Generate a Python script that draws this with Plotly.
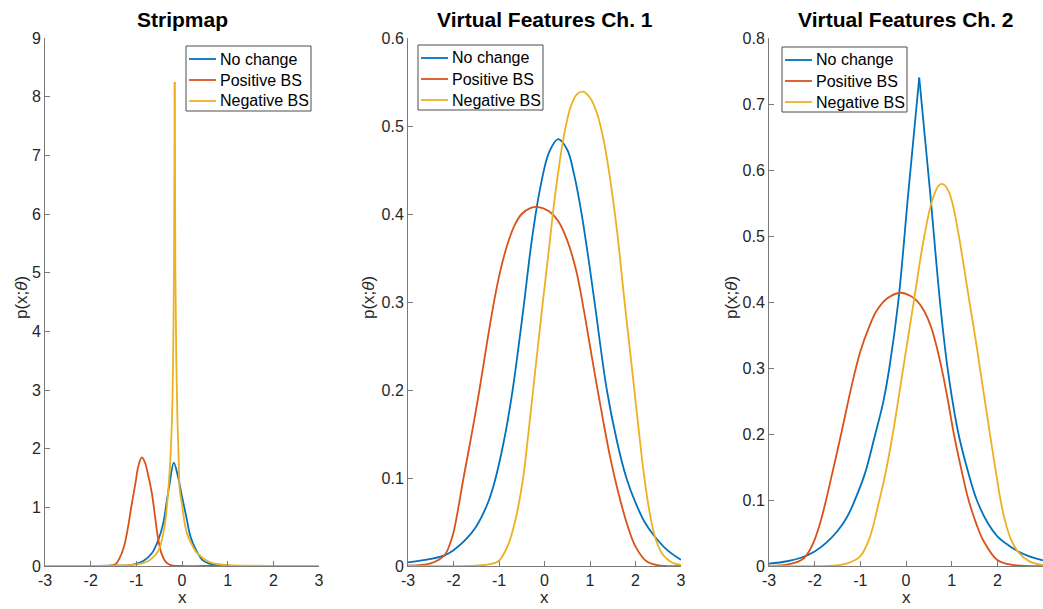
import plotly.graph_objects as go

# ---------------- data ----------------
x_tick_vals = [-3, -2, -1, 0, 1, 2, 3]
x_tick_text = ["-3", "-2", "-1", "0", "1", "2", "3"]

series_names = ["No change", "Positive BS", "Negative BS"]
series_colors = ["#0072BD", "#D95319", "#EDB120"]
panel_titles = ["Stripmap", "Virtual Features Ch. 1", "Virtual Features Ch. 2"]
panel_ymax = [9, 0.6, 0.8]
panel_dtick = [1, 0.1, 0.1]

# Panel 1 : Stripmap
s_x_nochange = [-3.0, -2.0, -1.5, -1.2, -1.02, -0.84, -0.66, -0.52, -0.41, -0.34, -0.27, -0.18,
                -0.086, 0.0, 0.094, 0.187, 0.31, 0.45, 0.6, 0.75, 1.0, 1.5, 3.0]
s_y_nochange = [0.0, 0.001, 0.004, 0.012, 0.034, 0.09, 0.216, 0.44, 0.73, 1.07, 1.41, 1.76,
                1.52, 1.18, 0.84, 0.5, 0.27, 0.1, 0.04, 0.015, 0.004, 0.0, 0.0]
s_x_pos = [-3.0, -1.8, -1.6, -1.45, -1.37, -1.27, -1.18, -1.11, -1.02, -0.95, -0.878, -0.81,
           -0.75, -0.66, -0.59, -0.53, -0.45, -0.34, -0.23, -0.1, 0.5, 1.5, 3.0]
s_y_pos = [0.0, 0.0, 0.003, 0.034, 0.13, 0.33, 0.67, 1.01, 1.41, 1.72, 1.85, 1.76,
           1.58, 1.24, 0.84, 0.5, 0.216, 0.057, 0.01, 0.001, 0.0, 0.0, 0.0]
s_x_neg = [-3.0, -2.0, -1.5, -1.2, -1.0, -0.88, -0.75, -0.66, -0.55, -0.48, -0.42, -0.37,
           -0.30, -0.26, -0.22, -0.195, -0.175, -0.16, -0.145, -0.125, -0.10, -0.07, -0.05,
           0.0, 0.058, 0.12, 0.2, 0.3, 0.42, 0.5, 0.63, 0.8, 1.0, 1.5, 2.0, 3.0]
s_y_neg = [0.0, 0.001, 0.005, 0.013, 0.028, 0.045, 0.08, 0.13, 0.22, 0.33, 0.52, 0.73,
           1.3, 1.75, 2.5, 3.5, 5.0, 8.25, 5.0, 3.5, 2.5, 1.75, 1.3,
           1.05, 0.73, 0.53, 0.39, 0.25, 0.16, 0.11, 0.057, 0.03, 0.015, 0.005, 0.002, 0.0005]

# Panel 2 : Virtual Features Ch. 1
v1_x_nochange = [-3.0, -2.5, -2.2, -2.0, -1.75, -1.5, -1.25, -1.1, -0.9, -0.7, -0.47, -0.28,
                 -0.1, 0.1, 0.3, 0.5, 0.65, 0.8, 0.95, 1.1, 1.37, 1.6, 1.8, 2.0, 2.2, 2.4, 2.7, 3.0]
v1_y_nochange = [0.004, 0.008, 0.012, 0.018, 0.029, 0.045, 0.071, 0.095, 0.14, 0.2, 0.29, 0.37,
                 0.428, 0.47, 0.485, 0.473, 0.445, 0.405, 0.355, 0.30, 0.2, 0.14, 0.10, 0.072,
                 0.05, 0.035, 0.018, 0.007]
v1_x_pos = [-3.0, -2.5, -2.2, -2.1, -2.0, -1.78, -1.6, -1.43, -1.25, -1.1, -0.95, -0.8, -0.65,
            -0.5, -0.3, -0.15, 0.1, 0.3, 0.5, 0.7, 0.85, 1.0, 1.15, 1.3, 1.45, 1.6, 1.8, 2.0,
            2.25, 2.5, 3.0]
v1_y_pos = [0.0005, 0.003, 0.012, 0.022, 0.038, 0.1, 0.15, 0.2, 0.258, 0.303, 0.34, 0.368, 0.388,
            0.4, 0.407, 0.408, 0.403, 0.392, 0.37, 0.335, 0.295, 0.25, 0.205, 0.162, 0.122, 0.088,
            0.05, 0.022, 0.005, 0.0008, 0.0]
v1_x_neg = [-3.0, -1.5, -1.2, -1.0, -0.8, -0.65, -0.47, -0.36, -0.25, -0.14, -0.03, 0.08, 0.19,
            0.3, 0.42, 0.57, 0.71, 0.85, 1.0, 1.15, 1.3, 1.45, 1.6, 1.75, 1.85, 1.96, 2.07, 2.18,
            2.3, 2.44, 2.6, 2.8, 3.0]
v1_y_neg = [0.0, 0.0005, 0.002, 0.006, 0.024, 0.05, 0.1, 0.148, 0.2, 0.252, 0.303, 0.352, 0.403,
            0.447, 0.487, 0.521, 0.536, 0.539, 0.532, 0.515, 0.484, 0.437, 0.378, 0.305, 0.258,
            0.207, 0.155, 0.106, 0.064, 0.031, 0.013, 0.004, 0.0012]

# Panel 3 : Virtual Features Ch. 2
v2_x_nochange = [-3.0, -2.6, -2.3, -2.0, -1.75, -1.5, -1.3, -1.15, -0.9, -0.69, -0.5, -0.365,
                 -0.17, 0.05, 0.29, 0.53, 0.745, 0.91, 1.15, 1.35, 1.55, 1.8, 2.0, 2.25, 2.46,
                 2.7, 3.0]
v2_y_nochange = [0.0035, 0.0072, 0.0125, 0.022, 0.035, 0.053, 0.073, 0.095, 0.14, 0.195, 0.248,
                 0.30, 0.40, 0.565, 0.74, 0.565, 0.40, 0.30, 0.2, 0.145, 0.10, 0.064, 0.045,
                 0.031, 0.022, 0.0145, 0.0085]
v2_x_pos = [-3.0, -2.6, -2.25, -2.1, -2.0, -1.88, -1.75, -1.6, -1.42, -1.28, -1.15, -1.0, -0.82,
            -0.64, -0.4, -0.12, 0.1, 0.25, 0.4, 0.55, 0.68, 0.8, 0.92, 1.04, 1.2, 1.37, 1.55,
            1.69, 2.0, 2.3, 3.0]
v2_y_pos = [0.0003, 0.002, 0.011, 0.025, 0.04, 0.065, 0.1, 0.145, 0.2, 0.245, 0.285, 0.325, 0.36,
            0.387, 0.406, 0.414, 0.409, 0.401, 0.386, 0.362, 0.33, 0.293, 0.25, 0.203, 0.15,
            0.1, 0.062, 0.039, 0.009, 0.002, 0.0]
v2_x_neg = [-3.0, -1.6, -1.3, -1.0, -0.8, -0.6, -0.45, -0.29, -0.06, 0.175, 0.38, 0.53, 0.62,
            0.7, 0.78, 0.86, 0.95, 1.04, 1.15, 1.26, 1.39, 1.52, 1.64, 1.75, 1.86, 1.97, 2.07,
            2.17, 2.3, 2.46, 2.7, 3.0]
v2_y_neg = [0.0, 0.0005, 0.0035, 0.015, 0.042, 0.095, 0.14, 0.2, 0.3, 0.403, 0.492, 0.543, 0.563,
            0.575, 0.579, 0.576, 0.565, 0.543, 0.503, 0.457, 0.40, 0.345, 0.29, 0.24, 0.19, 0.142,
            0.1, 0.068, 0.04, 0.021, 0.007, 0.0015]

panels = [
    [(s_x_nochange, s_y_nochange, False), (s_x_pos, s_y_pos, False), (s_x_neg, s_y_neg, True)],
    [(v1_x_nochange, v1_y_nochange, False), (v1_x_pos, v1_y_pos, False), (v1_x_neg, v1_y_neg, False)],
    [(v2_x_nochange, v2_y_nochange, True), (v2_x_pos, v2_y_pos, False), (v2_x_neg, v2_y_neg, False)],
]

# ---------------- layout geometry (pixels) ----------------
W, H = 1043, 609
PLOT_TOP, PLOT_BOT = 38, 566
x_px = [(45, 319), (408, 681), (769, 1043)]
ylabel_px = [21, 368, 731]
legend_box = [(186, 46), (418, 45), (782, 47)]   # left, top of each legend box
LEG_W, LEG_H = 125, 65
LEG_ROWS = [13, 34, 55]

ph = PLOT_BOT - PLOT_TOP
def fx(p):
    return p / W
def fy(p):
    return (PLOT_BOT - p) / ph

FONT = "Liberation Sans, Arial, Helvetica, sans-serif"
TXT = "#262626"
AXC = "#7a7a7a"

fig = go.Figure()

for pi, curves in enumerate(panels):
    suf = "" if pi == 0 else str(pi + 1)
    for si, (xs, ys, cusp) in enumerate(curves):
        if cusp:
            k = ys.index(max(ys))
            parts = [(xs[:k + 1], ys[:k + 1]), (xs[k:], ys[k:])]
        else:
            parts = [(xs, ys)]
        for cx, cy in parts:
            fig.add_trace(go.Scatter(
                x=cx, y=cy, mode="lines", name=series_names[si],
                line=dict(color=series_colors[si], width=1.8, shape="spline", smoothing=1.0),
                showlegend=False, xaxis="x" + suf, yaxis="y" + suf, hoverinfo="skip"))

annotations = []
shapes = []
layout = dict(
    width=W, height=H,
    margin=dict(l=0, r=0, t=PLOT_TOP, b=H - PLOT_BOT, pad=0, autoexpand=False),
    paper_bgcolor="white", plot_bgcolor="white",
    font=dict(family=FONT, size=16, color=TXT),
    showlegend=False,
)

for pi in range(3):
    suf = "" if pi == 0 else str(pi + 1)
    x0, x1 = x_px[pi]
    common = dict(
        ticks="inside", ticklen=5, tickwidth=1, tickcolor=AXC,
        showline=True, linecolor=AXC, linewidth=1, mirror=False, automargin=False,
        showgrid=False, zeroline=False, tickfont=dict(size=16, color=TXT, family=FONT))
    layout["xaxis" + suf] = dict(
        domain=[fx(x0), fx(x1)], anchor="y" + suf, range=[-3, 3],
        tickmode="array", tickvals=x_tick_vals, ticktext=x_tick_text, **common)
    layout["yaxis" + suf] = dict(
        domain=[0, 1], anchor="x" + suf, range=[0, panel_ymax[pi]],
        tick0=0, dtick=panel_dtick[pi], **common)

    # legend box (bordered rectangle with sample lines and series names)
    bl, bt = legend_box[pi]
    shapes.append(dict(type="rect", xref="paper", yref="paper",
                       x0=fx(bl), x1=fx(bl + LEG_W), y0=fy(bt + LEG_H), y1=fy(bt),
                       line=dict(color="#4d4d4d", width=1), fillcolor="white", layer="above"))
    for si, name in enumerate(series_names):
        ry = bt + LEG_ROWS[si]
        shapes.append(dict(type="line", xref="paper", yref="paper",
                           x0=fx(bl + 3), x1=fx(bl + 30), y0=fy(ry), y1=fy(ry),
                           line=dict(color=series_colors[si], width=1.8), layer="above"))
        annotations.append(dict(text=name, x=fx(bl + 32), y=fy(ry), xref="paper", yref="paper",
                                xanchor="left", yanchor="middle", showarrow=False,
                                font=dict(size=16, color="black", family=FONT)))

    # title
    annotations.append(dict(
        text=f"<b>{panel_titles[pi]}</b>", x=fx((x0 + x1) / 2), y=fy(20),
        xref="paper", yref="paper", xanchor="center", yanchor="middle", showarrow=False,
        font=dict(size=21, color="black", family=FONT)))
    # x label (box bottom at the page edge)
    annotations.append(dict(
        text="x", x=fx((x0 + x1) / 2), y=fy(H), yshift=0,
        xref="paper", yref="paper", xanchor="center", yanchor="bottom", showarrow=False,
        font=dict(size=17, color=TXT, family=FONT)))
    # y label
    annotations.append(dict(
        text="p(x;<i>θ</i>)", x=fx(ylabel_px[pi]), y=fy(298), textangle=-90,
        xref="paper", yref="paper", xanchor="center", yanchor="middle", showarrow=False,
        font=dict(size=17, color=TXT, family=FONT)))

layout["annotations"] = annotations
layout["shapes"] = shapes
fig.update_layout(**layout)
fig.write_html("out.html", config={"displayModeBar": False},
               post_script="document.body.style.margin='0px';")
